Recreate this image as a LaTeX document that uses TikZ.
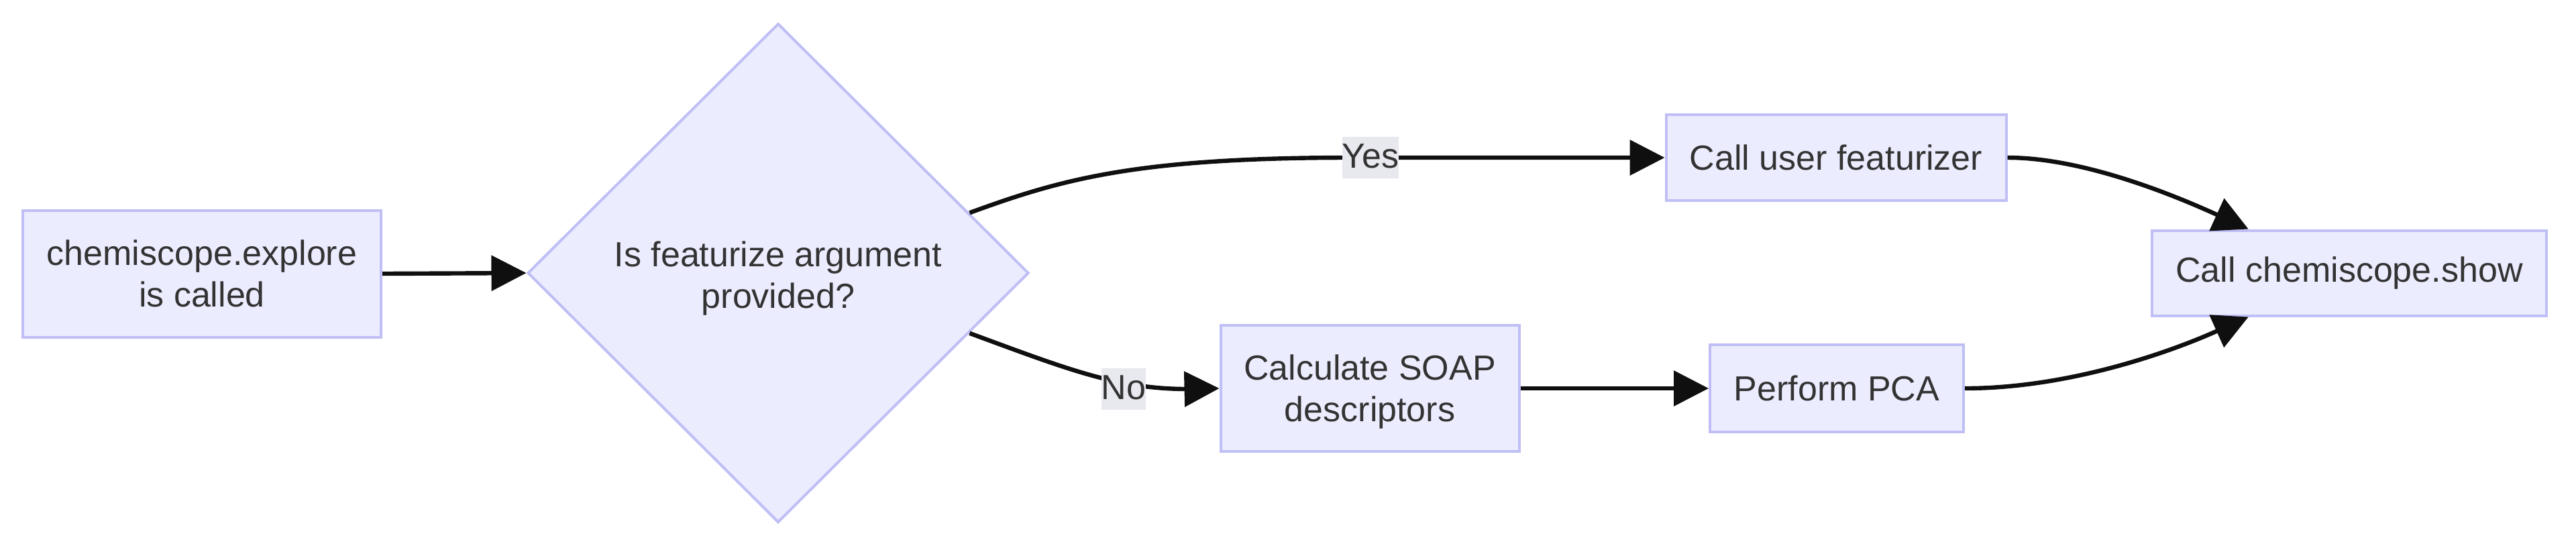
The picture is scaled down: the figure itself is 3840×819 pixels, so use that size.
\documentclass[tikz,border=0pt]{standalone}
\usepackage{fontspec}
\setmainfont{Liberation Sans}
\usetikzlibrary{shapes.geometric,arrows.meta,calc}
\definecolor{nodefill}{HTML}{ECECFF}
\definecolor{nodeline}{HTML}{BFBFF6}
\definecolor{txt}{HTML}{333333}
\definecolor{edgecol}{HTML}{0F0F0F}
\definecolor{lblbg}{HTML}{E8E8EF}
\begin{document}
\begin{tikzpicture}[x=0.25pt,y=-0.25pt,
  box/.style={draw=nodeline, fill=nodefill, line width=1pt, text=txt, align=center, inner sep=0pt, font=\fontsize{13}{15.5}\selectfont},
  decision/.style={box, shape=diamond},
  conn/.style={draw=edgecol, line width=1.6pt, -{Triangle[length=13pt,width=13pt]}},
  lbl/.style={fill=lblbg, text=txt, inner xsep=0pt, inner ysep=1.4pt, text height=10pt, text depth=2.5pt, font=\fontsize{13}{15.5}\selectfont}
]
\useasboundingbox (0,0) rectangle (3840,819);
\node[box, minimum width=133.5pt, minimum height=47.25pt] (start) at (301,408) {chemiscope.explore\\is called};
\node[decision, minimum width=186.75pt, minimum height=186pt, text height=29pt] (dec) at (1160,407) {Is featurize argument\\provided?};
\node[box, minimum width=126.75pt, minimum height=32pt] (feat) at (2737,235) {Call user featurizer};
\node[box, minimum width=111.25pt, minimum height=47pt, text height=27.5pt] (soap) at (2042,579) {Calculate SOAP\\descriptors};
\node[box, minimum width=94.5pt, minimum height=32.5pt] (pca) at (2738,579) {Perform PCA};
\node[box, minimum width=147pt, minimum height=31.75pt] (show) at (3502,407) {Call chemiscope.show};

\draw[conn] (start.east) -- (dec.west);
\draw[conn] ($(dec.north)!0.76!(dec.east)$) .. controls (1580,268) and (1690,236) .. (2000,235) -- (feat.west);
\node[lbl] (yes) at (2043,235) {Yes};
\draw[conn] ($(dec.south)!0.76!(dec.east)$) .. controls (1590,550) and (1665,580) .. (1770,580) -- (soap.west);
\node[lbl] (no) at (1675,580) {No};
\draw[conn] (soap.east) -- (pca.west);
\draw[conn] (feat.east) .. controls (3100,235) and (3230,286) .. ($(show.north west)!0.246!(show.north east)$);
\draw[conn] (pca.east) .. controls (3080,579) and (3230,527) .. ($(show.south west)!0.246!(show.south east)$);
\end{tikzpicture}
\end{document}
